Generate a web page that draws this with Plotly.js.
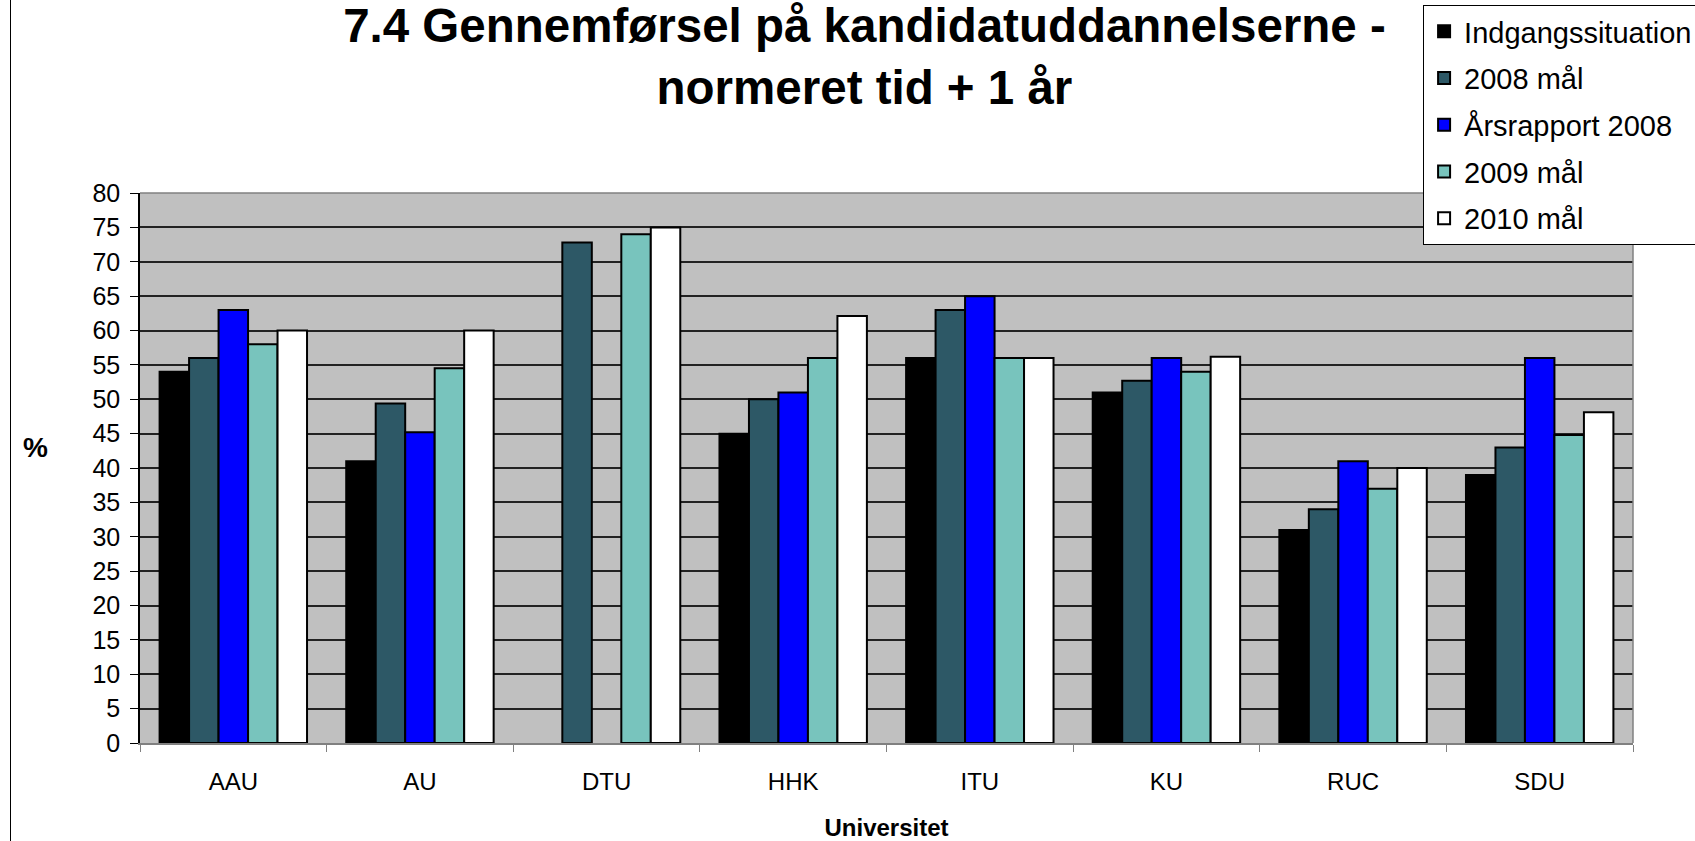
<!DOCTYPE html>
<html>
<head>
<meta charset="utf-8">
<script src="https://cdn.plot.ly/plotly-3.0.1.min.js"></script>
<style>
  body { margin: 0; background: #fff; }
  #chart { position: absolute; left: 0; top: 0; width: 1695px; height: 841px; }
  #edge { position: absolute; left: 10px; top: 0; width: 1px; height: 841px; background: #000; }
</style>
</head>
<body>
<div id="chart"></div>
<div id="edge"></div>
<script>
// universities on the x axis
const universities = ['AAU', 'AU', 'DTU', 'HHK', 'ITU', 'KU', 'RUC', 'SDU'];

// series values (%)
const indgangssituation = [54, 41, null, 45, 56, 51, 31, 39];
const maal2008 = [56, 49.4, 72.8, 50, 63, 52.7, 34, 43];
const aarsrapport2008 = [63, 45.2, null, 51, 65, 56, 41, 56];
const maal2009 = [58, 54.5, 74, 56, 56, 54, 37, 44.8];
const maal2010 = [60, 60, 75, 62.1, 56, 56.2, 40, 48.1];

const seriesNames = ['Indgangssituation', '2008 mål', 'Årsrapport 2008', '2009 mål', '2010 mål'];
const seriesColors = ['#000000', '#2d5866', '#0000ff', '#78c4bd', '#ffffff'];
const seriesValues = [indgangssituation, maal2008, aarsrapport2008, maal2009, maal2010];

const font = 'Liberation Sans, Arial, sans-serif';

const traces = seriesValues.map((vals, i) => ({
  type: 'bar',
  name: seriesNames[i],
  x: universities,
  y: vals,
  legendgroup: 'g' + i,
  marker: { color: seriesColors[i], line: { color: '#000', width: 2 } },
  hoverinfo: 'x+y+name'
}));

const layout = {
  width: 1695,
  height: 841,
  margin: { l: 140, r: 62, t: 193, b: 98, autoexpand: false },
  paper_bgcolor: '#fff',
  plot_bgcolor: '#c0c0c0',
  font: { family: font, color: '#000' },
  barmode: 'group',
  bargap: 0.21,
  bargroupgap: 0,
  title: {
    text: '<b>7.4 Gennemførsel på kandidatuddannelserne -<br>normeret tid + 1 år</b>',
    font: { family: font, size: 47.5, color: '#000' },
    x: 0.51, xref: 'container', xanchor: 'center',
    y: 0.95, yref: 'container', yanchor: 'top'
  },
  xaxis: {
    type: 'category',
    tickson: 'boundaries',
    ticks: 'outside',
    ticklen: 7,
    tickcolor: '#808080',
    showline: true,
    linecolor: '#808080',
    linewidth: 1.5,
    tickfont: { family: font, size: 24 },
    ticklabelstandoff: 16,
    title: { text: '<b>Universitet</b>', font: { family: font, size: 24 }, standoff: 28 },
    showgrid: false,
    fixedrange: true
  },
  yaxis: {
    range: [0, 80],
    dtick: 5,
    ticks: 'outside',
    ticklen: 8,
    tickcolor: '#000',
    showline: true,
    linecolor: '#000',
    linewidth: 1.5,
    tickfont: { family: font, size: 25 },
    ticklabelstandoff: 5,
    showgrid: true,
    gridcolor: '#222',
    gridwidth: 1.5,
    zeroline: false,
    fixedrange: true
  },
  shapes: [
    { type: 'line', xref: 'paper', yref: 'paper', x0: 0, x1: 1, y0: 1, y1: 1, line: { color: '#808080', width: 1.5 } },
    { type: 'line', xref: 'paper', yref: 'paper', x0: 1, x1: 1, y0: 0, y1: 1, line: { color: '#808080', width: 1.5 } }
  ],
  annotations: [
    { text: '<b>%</b>', xref: 'paper', yref: 'paper', x: -0.0703, y: 0.538, showarrow: false,
      font: { family: font, size: 28 }, xanchor: 'center', yanchor: 'middle' }
  ],
  legend: {
    x: 0.8594, y: 1.3418, xanchor: 'left', yanchor: 'top',
    bgcolor: '#fff',
    bordercolor: '#000',
    borderwidth: 1,
    font: { family: font, size: 29 },
    tracegroupgap: 6,
    itemwidth: 30
  },
  showlegend: true
};

Plotly.newPlot('chart', traces, layout, { displayModeBar: false });
</script>
</body>
</html>
